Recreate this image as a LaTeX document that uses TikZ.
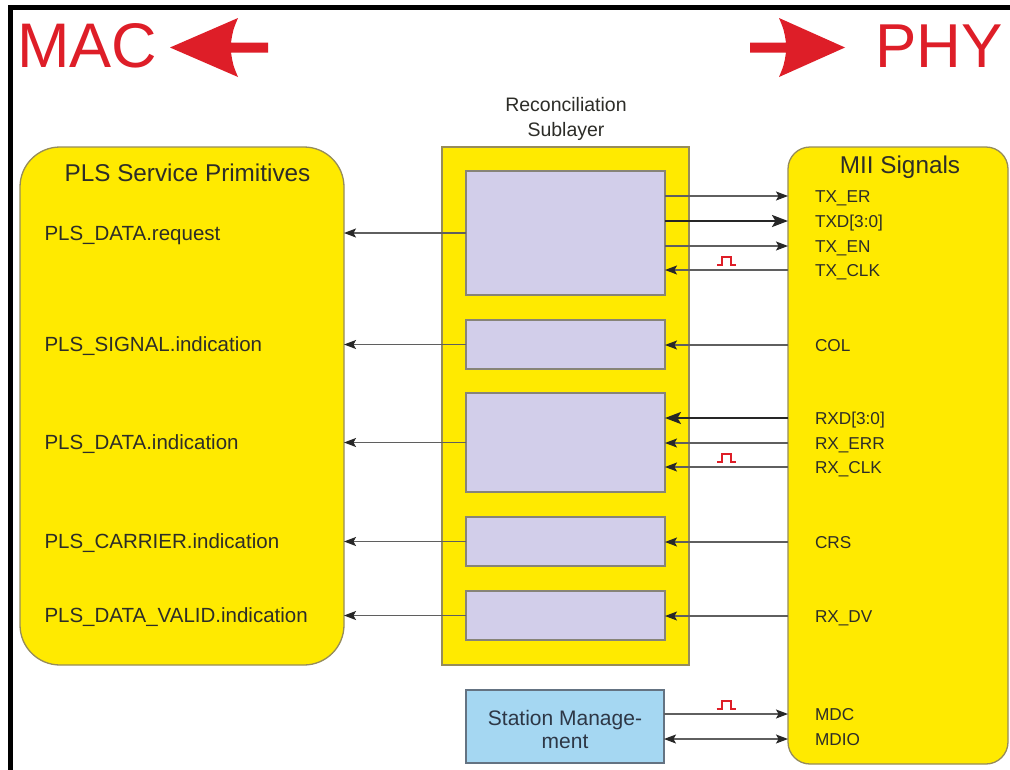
\documentclass[tikz,border=0pt]{standalone}
\usepackage{fontspec}
\setmainfont{Liberation Sans}
\usetikzlibrary{arrows.meta,calc}
\definecolor{yel}{RGB}{255,234,0}
\definecolor{yelborder}{RGB}{150,140,90}
\definecolor{lav}{RGB}{210,206,234}
\definecolor{lavborder}{RGB}{135,132,120}
\definecolor{skyb}{RGB}{165,215,242}
\definecolor{skyborder}{RGB}{100,115,130}
\definecolor{macred}{RGB}{222,30,40}
\definecolor{txt}{RGB}{45,45,40}
\definecolor{smtxt}{RGB}{45,55,70}
\definecolor{linegray}{RGB}{95,95,95}
\definecolor{headgray}{RGB}{40,40,40}
\tikzset{
  ybox/.style={draw=yelborder, fill=yel, line width=1.3pt, inner sep=0pt, outer sep=0pt, anchor=north west},
  lbox/.style={draw=lavborder, fill=lav, line width=1.3pt, inner sep=0pt, outer sep=0pt, anchor=north west, minimum width=199pt},
  lblL/.style={anchor=west, inner sep=0pt, outer sep=0pt, text=txt, font=\fontsize{20.5}{24}\selectfont, text height=14.7pt, text depth=0pt},
  lblS/.style={anchor=west, inner sep=0pt, outer sep=0pt, text=txt, font=\fontsize{17.2}{20}\selectfont, text height=12.3pt, text depth=0pt},
  headtxt/.style={inner sep=0pt, outer sep=0pt, text=txt, font=\fontsize{24.3}{28}\selectfont, text height=17.4pt, text depth=0pt},
  conn/.style={draw=linegray, line width=1.2pt, -{Stealth[length=12pt,width=9pt,inset=2.5pt,color=headgray]}},
  connthick/.style={draw=black!85, line width=2.3pt, -{Stealth[length=16pt,width=12pt,inset=3.5pt]}},
  conndbl/.style={draw=linegray, line width=1.2pt, {Stealth[length=12pt,width=9pt,inset=2.5pt,color=headgray]}-{Stealth[length=12pt,width=9pt,inset=2.5pt,color=headgray]}},
  clkpulse/.pic={\draw[macred, line width=2pt, line join=miter] (-9.5,-5)--(-4.5,-5)--(-4.5,-13)--(4.5,-13)--(4.5,-5)--(9.5,-5);}
}
\begin{document}
\begin{tikzpicture}[x=1pt,y=-1pt]
\useasboundingbox (0,0) rectangle (1010,769);
\fill[white] (0,0) rectangle (1010,769);
% frame
\draw[line width=4.5pt] (10.5,775) -- (10.5,7.5) -- (1015,7.5);

% titles
\node[anchor=base west, inner sep=0pt, text=macred, font=\fontsize{63}{63}\selectfont] (mactitle) at (17,67) {MAC};
\node[anchor=base east, inner sep=0pt, text=macred, font=\fontsize{62}{62}\selectfont] (phytitle) at (1003,67) {PHY};
% big red arrows
\fill[macred] (170,47.5) -- (238,18) .. controls (233,30) .. (231,42.5) -- (268,42.5) -- (268,52.5) -- (231,52.5) .. controls (233,65) .. (238,77) -- cycle;
\fill[macred] (845,47.5) -- (779,18) .. controls (784,30) .. (786,42.5) -- (750,42.5) -- (750,52.5) -- (786,52.5) .. controls (784,65) .. (779,77) -- cycle;

% Reconciliation caption
\node[align=center, inner sep=0pt, text=txt, font=\fontsize{19.5}{25}\selectfont] (rscap) at (566,119) {Reconciliation\\Sublayer};

% main boxes
\node[ybox, rounded corners=40pt, minimum width=324pt, minimum height=518pt] (mac) at (20,147) {};
\node[ybox, minimum width=247pt, minimum height=518pt] (rs) at (442,147) {};
\node[ybox, rounded corners=22pt, minimum width=220pt, minimum height=617pt] (phy) at (788,147) {};

% inner boxes
\node[lbox, minimum height=124pt] (b1) at (466,171) {};
\node[lbox, minimum height=49pt] (b2) at (466,320) {};
\node[lbox, minimum height=99pt] (b3) at (466,393) {};
\node[lbox, minimum height=49pt] (b4) at (466,517) {};
\node[lbox, minimum height=49pt] (b5) at (466,591) {};
\node[draw=skyborder, fill=skyb, line width=1.3pt, inner sep=0pt, outer sep=0pt, anchor=north west, minimum width=198pt, minimum height=73pt] (sm) at (466,690) {};
\node[align=center, inner sep=0pt, text=smtxt, font=\fontsize{21}{23}\selectfont] (smtext) at (565,729) {Station Manage-\\ment};

% headings
\node[headtxt] (pls) at (187.5,173) {PLS Service Primitives};
\node[headtxt] (mii) at (900,165) {MII Signals};

% left labels
\node[lblL] (l1) at (44.5,233) {PLS\_DATA.request};
\node[lblL] (l2) at (44.5,344) {PLS\_SIGNAL.indication};
\node[lblL] (l3) at (44.5,442) {PLS\_DATA.indication};
\node[lblL] (l4) at (44.5,541) {PLS\_CARRIER.indication};
\node[lblL] (l5) at (44.5,615) {PLS\_DATA\_VALID.indication};

% right labels
\node[lblS] (s1) at (815,196) {TX\_ER};
\node[lblS] (s2) at (815,221) {TXD[3:0]};
\node[lblS] (s3) at (815,246) {TX\_EN};
\node[lblS] (s4) at (815,270) {TX\_CLK};
\node[lblS] (s5) at (815,345) {COL};
\node[lblS] (s6) at (815,418) {RXD[3:0]};
\node[lblS] (s7) at (815,443) {RX\_ERR};
\node[lblS] (s8) at (815,467) {RX\_CLK};
\node[lblS] (s9) at (815,542) {CRS};
\node[lblS] (s10) at (815,616) {RX\_DV};
\node[lblS] (s11) at (815,714) {MDC};
\node[lblS] (s12) at (815,739) {MDIO};

% left connectors
\draw[conn] (b1.west) -- (b1.west -| mac.east);
\draw[conn] (b2.west) -- (b2.west -| mac.east);
\draw[conn] (b3.west) -- (b3.west -| mac.east);
\draw[conn] (b4.west) -- (b4.west -| mac.east);
\draw[conn] (b5.west) -- (b5.west -| mac.east);

% right connectors
\draw[conn] (b1.east |- s1.west) -- (phy.west |- s1.west);
\draw[connthick] (b1.east |- s2.west) -- (phy.west |- s2.west);
\draw[conn] (b1.east |- s3.west) -- (phy.west |- s3.west);
\draw[conn] (phy.west |- s4.west) -- (b1.east |- s4.west);
\draw[conn] (phy.west |- s5.west) -- (b2.east |- s5.west);
\draw[connthick] (phy.west |- s6.west) -- (b3.east |- s6.west);
\draw[conn] (phy.west |- s7.west) -- (b3.east |- s7.west);
\draw[conn] (phy.west |- s8.west) -- (b3.east |- s8.west);
\draw[conn] (phy.west |- s9.west) -- (b4.east |- s9.west);
\draw[conn] (phy.west |- s10.west) -- (b5.east |- s10.west);
\draw[conn] (sm.east |- s11.west) -- (phy.west |- s11.west);
\draw[conndbl] (sm.east |- s12.west) -- (phy.west |- s12.west);

% clock pulses
\pic at ($(b1.east |- s4.west)!0.5!(phy.west |- s4.west)$) {clkpulse};
\pic at ($(b3.east |- s8.west)!0.5!(phy.west |- s8.west)$) {clkpulse};
\pic at ($(sm.east |- s11.west)!0.5!(phy.west |- s11.west)$) {clkpulse};
\end{tikzpicture}
\end{document}
